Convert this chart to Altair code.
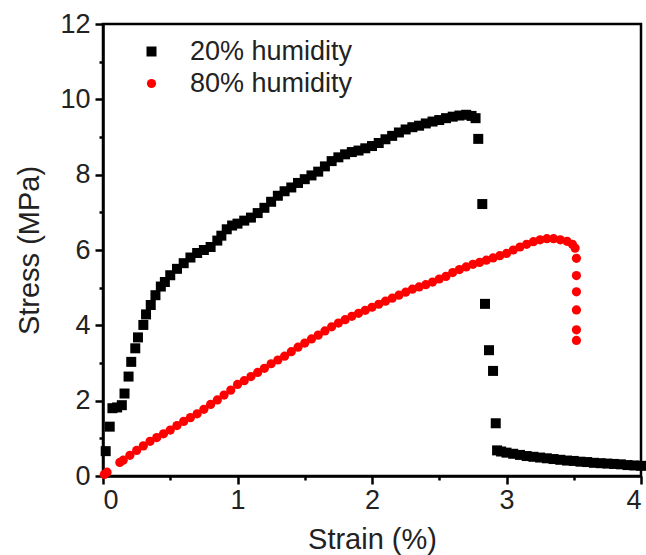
import altair as alt
import pandas as pd

series_names = ["20% humidity", "80% humidity"]

strain_20 = [0.02, 0.05, 0.07, 0.105, 0.14, 0.16, 0.19, 0.21, 0.24, 0.26, 0.30, 0.32, 0.355, 0.39, 0.43,
             0.46, 0.50, 0.55, 0.60, 0.65, 0.70, 0.75, 0.80, 0.85, 0.88, 0.92, 0.96, 1.00, 1.05, 1.10,
             1.15, 1.20, 1.25, 1.30, 1.35, 1.40, 1.45, 1.50, 1.55, 1.60, 1.65, 1.70, 1.75, 1.80, 1.85,
             1.90, 1.95, 2.00, 2.05, 2.10, 2.15, 2.20, 2.25, 2.30, 2.35, 2.40, 2.45, 2.50, 2.55, 2.60,
             2.65, 2.70, 2.74, 2.77,
             2.79, 2.82, 2.84, 2.87, 2.90, 2.92,
             2.93, 2.96, 3.00, 3.05, 3.10, 3.15, 3.20, 3.25, 3.30, 3.35, 3.40, 3.45, 3.50, 3.55, 3.60,
             3.65, 3.70, 3.75, 3.80, 3.85, 3.90, 3.95, 4.00]
stress_20 = [0.66, 1.31, 1.80, 1.82, 1.88, 2.19, 2.64, 3.03, 3.39, 3.68, 4.01, 4.29, 4.54, 4.80, 5.03,
             5.15, 5.33, 5.50, 5.65, 5.80, 5.92, 6.00, 6.08, 6.25, 6.38, 6.55, 6.65, 6.70, 6.78, 6.86,
             6.98, 7.12, 7.28, 7.44, 7.56, 7.66, 7.78, 7.88, 7.98, 8.08, 8.22, 8.36, 8.46, 8.54, 8.60,
             8.64, 8.70, 8.76, 8.84, 8.94, 9.03, 9.12, 9.20, 9.26, 9.30, 9.36, 9.41, 9.45, 9.50, 9.54,
             9.57, 9.59, 9.56, 9.50,
             8.95, 7.22, 4.57, 3.34, 2.79, 1.40,
             0.68, 0.65, 0.62, 0.59, 0.56, 0.53, 0.51, 0.49, 0.47, 0.45, 0.43, 0.41, 0.40, 0.38, 0.37,
             0.35, 0.34, 0.33, 0.32, 0.31, 0.29, 0.28, 0.27]

strain_80 = [0.01, 0.03, 0.125, 0.15, 0.20, 0.25, 0.30, 0.35, 0.40, 0.45, 0.50, 0.55, 0.60, 0.65, 0.70,
             0.75, 0.80, 0.85, 0.90, 0.95, 1.00, 1.05, 1.10, 1.15, 1.20, 1.25, 1.30, 1.35, 1.40, 1.45,
             1.50, 1.55, 1.60, 1.65, 1.70, 1.75, 1.80, 1.85, 1.90, 1.95, 2.00, 2.05, 2.10, 2.15, 2.20,
             2.25, 2.30, 2.35, 2.40, 2.45, 2.50, 2.55, 2.60, 2.65, 2.70, 2.75, 2.80, 2.85, 2.90, 2.95,
             3.00, 3.05, 3.10, 3.15, 3.20, 3.25, 3.30, 3.35, 3.40, 3.45, 3.49, 3.51,
             3.52, 3.52, 3.52, 3.52, 3.52, 3.52]
stress_80 = [0.04, 0.10, 0.36, 0.42, 0.55, 0.68, 0.80, 0.92, 1.02, 1.12, 1.22, 1.34, 1.45, 1.55, 1.65,
             1.77, 1.90, 2.02, 2.15, 2.28, 2.43, 2.53, 2.64, 2.75, 2.86, 2.98, 3.08, 3.18, 3.30, 3.42,
             3.53, 3.64, 3.74, 3.85, 3.96, 4.06, 4.15, 4.24, 4.32, 4.40, 4.48, 4.56, 4.64, 4.72, 4.80,
             4.88, 4.96, 5.02, 5.08, 5.15, 5.23, 5.30, 5.40, 5.48, 5.55, 5.62, 5.67, 5.73, 5.79, 5.85,
             5.91, 6.00, 6.08, 6.15, 6.22, 6.27, 6.30, 6.30, 6.27, 6.23, 6.15, 6.05,
             5.78, 5.32, 4.89, 4.41, 3.88, 3.60]

x_ticks = [0, 0.5, 1, 1.5, 2, 2.5, 3, 3.5, 4]
y_ticks = list(range(0, 13))

df = pd.concat([
    pd.DataFrame({"strain": strain_20, "stress": stress_20, "series": series_names[0], "order": 1}),
    pd.DataFrame({"strain": strain_80, "stress": stress_80, "series": series_names[1], "order": 0}),
])

FONT = "Liberation Sans"
FS = 27
TFS = 29

legend = alt.Legend(
    orient="none", legendX=35, legendY=14, title=None,
    labelFontSize=FS, labelFont=FONT, labelColor="#222222", labelLimit=400,
    symbolSize=90, rowPadding=4, labelOffset=25, padding=0,
    symbolStrokeWidth=0,
)

chart = alt.Chart(df).mark_point(filled=True, opacity=1, strokeWidth=0).encode(
    x=alt.X("strain:Q", scale=alt.Scale(domain=[0, 4], nice=False, zero=False),
            axis=alt.Axis(values=x_ticks, title="Strain (%)",
                          labelExpr="datum.value % 1 === 0 ? format(datum.value, 'd') : ''",
                          ticks=True, tickSize=8, tickColor="black", tickWidth=2.5,
                          tickDash={"condition": {"test": "datum.value % 1 === 0", "value": [20, 0]}, "value": [4, 20]},
                          labelPadding=3, titlePadding=12)),
    y=alt.Y("stress:Q", scale=alt.Scale(domain=[0, 12], nice=False),
            axis=alt.Axis(values=y_ticks, title="Stress (MPa)",
                          labelExpr="datum.value % 2 === 0 ? format(datum.value, 'd') : ''",
                          ticks=True, tickSize=8, tickColor="black", tickWidth=2.5,
                          tickDash={"condition": {"test": "datum.value % 2 === 0", "value": [20, 0]}, "value": [4, 20]},
                          labelPadding=5, titlePadding=15)),
    color=alt.Color("series:N", scale=alt.Scale(domain=series_names, range=["#000000", "#ff0000"]), legend=legend),
    shape=alt.Shape("series:N", scale=alt.Scale(domain=series_names, range=["square", "circle"]), legend=legend),
    size=alt.Size("series:N", scale=alt.Scale(domain=series_names, range=[100, 85]), legend=None),
    order=alt.Order("order:Q"),
).properties(
    width=538, height=452,
    autosize=alt.AutoSizeParams(type="none"),
    padding={"left": 103, "top": 24, "right": 5, "bottom": 79},
    background="white",
).configure_axis(
    domainColor="black", domainWidth=2.5,
    labelFont=FONT, labelFontSize=FS, labelColor="#222222",
    titleFont=FONT, titleFontSize=TFS, titleFontWeight="normal", titleColor="#222222",
    grid=False,
).configure_view(stroke="black", strokeWidth=2.5)

chart.save("out.html", embed_options={"renderer": "svg", "actions": False})
